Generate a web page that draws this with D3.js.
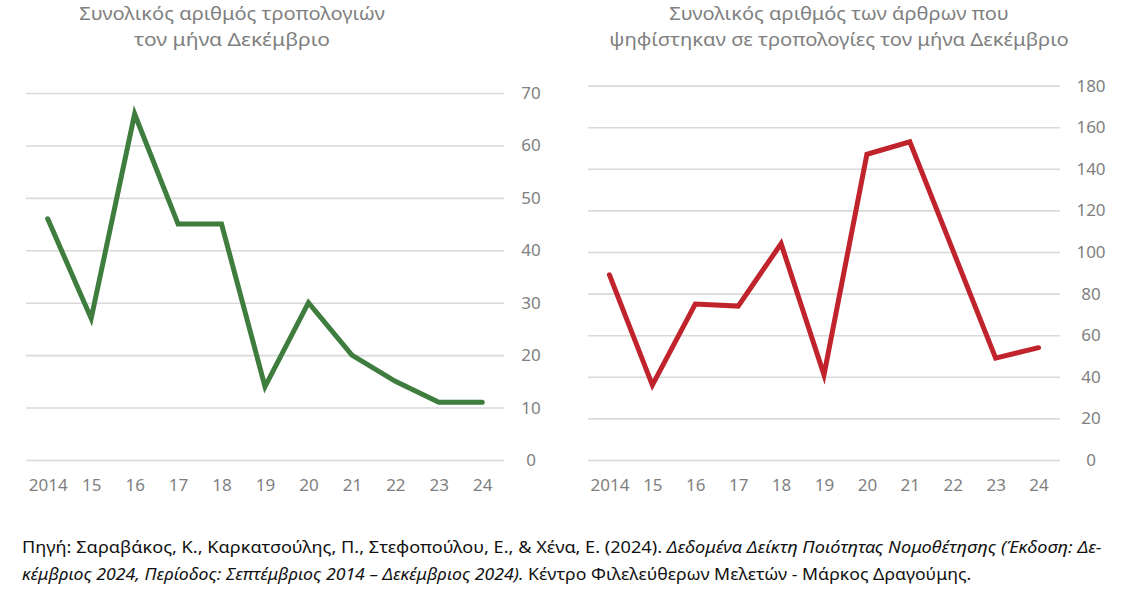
<!DOCTYPE html>
<html>
<head>
<meta charset="utf-8">
<script src="https://cdn.jsdelivr.net/npm/d3@7"></script>
<style>
  html, body { margin: 0; padding: 0; background: #ffffff; }
  svg { display: block; }
  text { font-family: "Noto Sans", "Open Sans", sans-serif; }
</style>
</head>
<body>
<svg id="chart" width="1128" height="590"></svg>
<script>
// ---- Data ----
const years = ["2014", "15", "16", "17", "18", "19", "20", "21", "22", "23", "24"];
const amendments = [46, 27, 66, 45, 45, 14, 30, 20, 15, 11, 11];
const articles = [89, 36, 75, 74, 104, 41, 147, 153, 101, 49, 54];
const leftTicks = [0, 10, 20, 30, 40, 50, 60, 70];
const rightTicks = [0, 20, 40, 60, 80, 100, 120, 140, 160, 180];
const leftTitle = ["Συνολικός αριθμός τροπολογιών", "τον μήνα Δεκέμβριο"];
const rightTitle = ["Συνολικός αριθμός των άρθρων που", "ψηφίστηκαν σε τροπολογίες τον μήνα Δεκέμβριο"];
const sourceLine1 = [
  { t: "Πηγή: Σαραβάκος, Κ., Καρκατσούλης, Π., Στεφοπούλου, Ε., & Χένα, Ε. (2024). ", i: false },
  { t: "Δεδομένα Δείκτη Ποιότητας Νομοθέτησης (Έκδοση: Δε-", i: true }
];
const sourceLine2 = [
  { t: "κέμβριος 2024, Περίοδος: Σεπτέμβριος 2014 – Δεκέμβριος 2024).", i: true },
  { t: " Κέντρο Φιλελεύθερων Μελετών - Μάρκος Δραγούμης.", i: false }
];

const svg = d3.select("#chart");
svg.append("rect").attr("width", 1128).attr("height", 590).attr("fill", "#fff");

const gridColor = "#d9d9d9";
const labelColor = "#7f7f7f";

function panel(cfg) {
  const x = d3.scalePoint().domain(years).range([cfg.x0, cfg.x1]).padding(0.5);
  const y = d3.scaleLinear().domain([cfg.ticks[0], cfg.ticks[cfg.ticks.length - 1]]).range([460, cfg.yTop]);

  // grid + y labels
  const gy = svg.append("g")
    .attr("transform", `translate(${cfg.x1},0)`)
    .call(d3.axisRight(y).tickValues(cfg.ticks).tickSize(-(cfg.x1 - cfg.x0)).tickPadding(cfg.labelPad).tickFormat(d3.format("d")));
  gy.select(".domain").remove();
  gy.selectAll(".tick line").attr("stroke", gridColor).attr("stroke-width", 1.6);
  gy.selectAll(".tick text")
    .attr("fill", labelColor)
    .attr("font-size", 17)
    .attr("text-anchor", "middle")
    .style("font-family", "'Noto Sans', sans-serif");

  // x labels
  const gx = svg.append("g")
    .attr("transform", "translate(0,460)")
    .call(d3.axisBottom(x).tickSize(0).tickPadding(19));
  gx.select(".domain").remove();
  gx.selectAll(".tick text")
    .attr("fill", labelColor)
    .attr("font-size", 17)
    .style("font-family", "'Noto Sans', sans-serif");

  // line
  const line = d3.line().x((d, i) => x(years[i])).y(d => y(d));
  svg.append("path")
    .datum(cfg.values)
    .attr("d", line)
    .attr("fill", "none")
    .attr("stroke", cfg.color)
    .attr("stroke-width", 5)
    .attr("stroke-linejoin", "miter")
    .attr("stroke-linecap", "round");

  // title (one text element per line)
  cfg.title.forEach((s, i) => {
    const t = svg.append("text")
      .attr("fill", "#7f7f7f")
      .attr("font-size", 18.5)
      .attr("text-anchor", "middle")
      .attr("x", 0).attr("y", 0)
      .text(s);
    const w = t.node().getComputedTextLength();
    const sx = cfg.titleW[i] / w;
    t.attr("transform", `translate(${cfg.titleX},${20 + i * 25.5}) scale(${sx},1)`);
  });
}

panel({ x0: 26, x1: 504, yTop: 93, ticks: leftTicks, values: amendments, color: "#3e7d3e", labelPad: 27, title: leftTitle, titleX: 232, titleW: [306, 196] });
panel({ x0: 588, x1: 1060, yTop: 85.6, ticks: rightTicks, values: articles, color: "#c0232b", labelPad: 31, title: rightTitle, titleX: 839, titleW: [340, 460] });

// source footer
function sourceLine(parts, yPos, targetWidth) {
  const t = svg.append("text")
    .attr("x", 0).attr("y", 0)
    .attr("font-size", 15.5)
    .attr("fill", "#111")
    .style("font-family", "'Noto Sans', sans-serif");
  parts.forEach(p => {
    t.append("tspan").attr("font-style", p.i ? "italic" : "normal").text(p.t);
  });
  const w = t.node().getComputedTextLength();
  const s = targetWidth / w;
  t.attr("transform", `translate(22,${yPos}) scale(${s},1)`);
}
sourceLine(sourceLine1, 553, 1080);
sourceLine(sourceLine2, 580, 950);
</script>
</body>
</html>
